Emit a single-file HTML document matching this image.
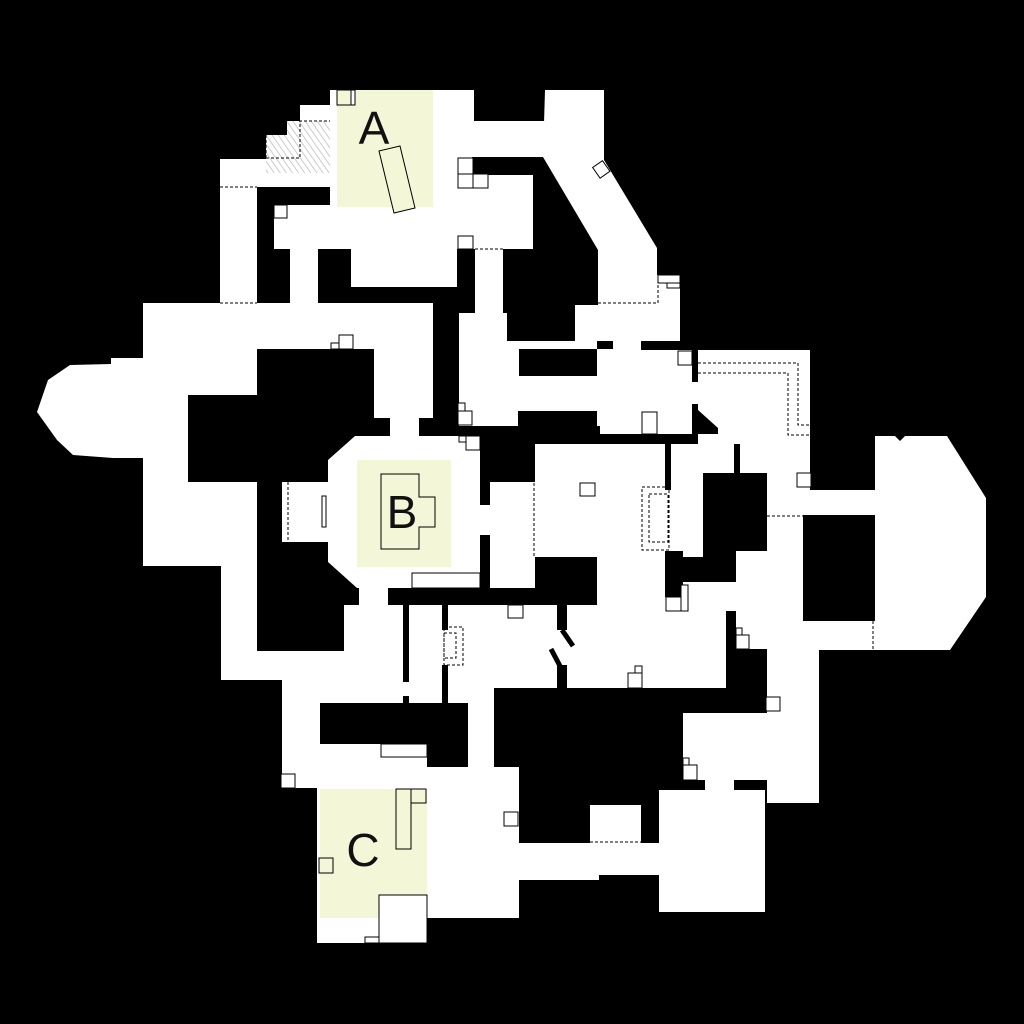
<!DOCTYPE html>
<html><head><meta charset="utf-8"><style>
html,body{margin:0;padding:0;background:#000;}
svg{display:block;}
text{font-family:"Liberation Sans",sans-serif;fill:#111;}
</style></head><body>
<svg width="1024" height="1024" viewBox="0 0 1024 1024">
<defs>
<pattern id="hatch" width="5" height="5" patternUnits="userSpaceOnUse" patternTransform="rotate(-35)">
<rect width="5" height="5" fill="#fff"/><line x1="0" y1="0" x2="0" y2="5" stroke="#bbb" stroke-width="1.5"/>
</pattern>
</defs>
<rect x="0" y="0" width="1024" height="1024" fill="#000"/>
<g fill="#fff">
<rect x="220" y="159" width="37" height="144"/>
<rect x="220" y="159" width="110" height="28"/>
<rect x="300" y="105" width="30" height="16"/>
<rect x="330" y="90" width="144" height="117"/>
<rect x="433" y="121" width="171" height="36"/>
<rect x="433" y="157" width="100" height="78"/>
<polygon points="545,90 604,90 604,160 657,248 657,275 680,275 680,341 575,341 575,305 598,305 598,250 543,157"/>
<rect x="274" y="205" width="259" height="44"/>
<rect x="290" y="249" width="28" height="56"/>
<rect x="351" y="249" width="106" height="38"/>
<rect x="475" y="235" width="28" height="78"/>
<rect x="459" y="313" width="48" height="28"/>
<rect x="143" y="303" width="290" height="46"/>
<rect x="374" y="349" width="59" height="69"/>
<rect x="390" y="418" width="29" height="18"/>
<rect x="143" y="349" width="114" height="46"/>
<rect x="143" y="395" width="45" height="87"/>
<rect x="143" y="482" width="114" height="84"/>
<rect x="221" y="566" width="36" height="114"/>
<rect x="221" y="651" width="123" height="29"/>
<rect x="282" y="482" width="46" height="60"/>
<polygon points="355,436 480,436 480,588 357,588 328,562 328,460"/>
<rect x="480" y="505" width="10" height="30"/>
<rect x="490" y="482" width="45" height="106"/>
<rect x="359" y="588" width="29" height="17"/>
<rect x="344" y="605" width="382" height="83"/>
<rect x="282" y="680" width="186" height="23"/>
<rect x="282" y="703" width="38" height="85"/>
<rect x="320" y="744" width="107" height="23"/>
<rect x="282" y="767" width="237" height="21"/>
<rect x="468" y="688" width="26" height="80"/>
<rect x="317" y="788" width="110" height="155"/>
<rect x="427" y="767" width="92" height="151"/>
<rect x="519" y="843" width="80" height="37"/>
<rect x="599" y="843" width="60" height="32"/>
<rect x="590" y="805" width="51" height="38"/>
<rect x="659" y="790" width="106" height="122"/>
<rect x="683" y="713" width="84" height="67"/>
<rect x="705" y="780" width="29" height="10"/>
<rect x="767" y="650" width="52" height="153"/>
<rect x="736" y="551" width="67" height="99"/>
<rect x="683" y="582" width="53" height="29"/>
<rect x="535" y="444" width="205" height="29"/>
<rect x="535" y="473" width="168" height="84"/>
<rect x="597" y="557" width="68" height="48"/>
<rect x="665" y="597" width="20" height="8"/>
<rect x="459" y="341" width="141" height="85"/>
<rect x="600" y="341" width="92" height="93"/>
<rect x="692" y="382" width="6" height="22"/>
<rect x="698" y="350" width="112" height="140"/>
<rect x="740" y="490" width="135" height="25"/>
<rect x="767" y="515" width="36" height="135"/>
<rect x="803" y="621" width="72" height="29"/>
<polygon points="875,436 895,436 900,441 905,436 947,436 986,498 986,597 950,650 875,650"/>
<polygon points="37,412 48,380 70,365 111,364 111,358 143,358 143,458 113,458 73,455 57,440"/>
</g>
<g fill="#000">
<rect x="472" y="157" width="71" height="18"/>
<rect x="519" y="349" width="78" height="27"/>
<rect x="518" y="411" width="79" height="15"/>
<rect x="597" y="341" width="16" height="8"/>
<rect x="641" y="341" width="57" height="9"/>
<rect x="597" y="376" width="3" height="35" fill="#fff"/>
<rect x="692" y="404" width="6" height="30"/>
<polygon points="698,410 718,428 718,434 698,434"/>
<rect x="665" y="444" width="6" height="46"/>
<rect x="734" y="444" width="6" height="29"/>
<rect x="703" y="473" width="64" height="78"/>
<rect x="665" y="551" width="18" height="46"/>
<rect x="665" y="565" width="71" height="17"/>
<rect x="535" y="557" width="62" height="48"/>
<rect x="726" y="611" width="10" height="102"/>
<rect x="736" y="649" width="31" height="64"/>
<rect x="403" y="605" width="6" height="77"/>
<rect x="403" y="696" width="6" height="7"/>
<rect x="442" y="605" width="6" height="25"/>
<rect x="442" y="665" width="6" height="38"/>
<rect x="557" y="605" width="10" height="25"/>
<rect x="557" y="665" width="10" height="23"/>
</g>
<g stroke="#000" stroke-width="5">
<line x1="562" y1="630" x2="573" y2="646"/>
<line x1="551" y1="649" x2="560" y2="666"/>
</g>
<rect x="266" y="121" width="64" height="52" fill="url(#hatch)"/>
<rect x="266" y="121" width="21" height="14" fill="#000"/>
<rect x="337" y="90" width="96" height="117" fill="#f4f6d8"/>
<rect x="357" y="460" width="94" height="107" fill="#f4f6d8"/>
<rect x="320" y="789" width="107" height="129" fill="#f4f6d8"/>
<g fill="none" stroke="#000" stroke-width="1" stroke-dasharray="3,2">
<line x1="220" y1="187" x2="257" y2="187"/>
<line x1="220" y1="303" x2="257" y2="303"/>
<line x1="475" y1="249" x2="503" y2="249"/>
<polyline points="598,303 658,303 658,283"/>
<rect x="642" y="487" width="27" height="63"/>
<rect x="649" y="494" width="19" height="48"/>
<rect x="444" y="627" width="19" height="38"/>
<rect x="444" y="633" width="12" height="25"/>
<polyline points="698,363 798,363 798,425 810,425"/>
<polyline points="698,373 788,373 788,435 810,435"/>
<line x1="534" y1="483" x2="534" y2="557"/>
<line x1="767" y1="516" x2="803" y2="516"/>
<line x1="873" y1="621" x2="873" y2="650"/>
<line x1="590" y1="842" x2="641" y2="842"/>
<line x1="288" y1="482" x2="288" y2="542"/>
<polyline points="266,158 300,158 300,121 330,121"/>
<line x1="266" y1="135" x2="266" y2="158"/>
</g>
<g fill="#fff" stroke="#000" stroke-width="1">
<rect x="337" y="90" width="14" height="15" fill="#f4f6d8"/><rect x="351" y="90" width="4" height="15"/>
<rect x="458" y="158" width="15" height="16"/><rect x="458" y="174" width="15" height="14"/><rect x="473" y="174" width="15" height="14"/>
<rect x="274" y="205" width="13" height="13"/><rect x="458" y="236" width="15" height="13"/>
<rect x="339" y="335" width="14" height="14"/><rect x="331" y="343" width="8" height="6"/>
<rect x="458" y="403" width="7" height="8"/><rect x="458" y="411" width="14" height="14"/>
<rect x="459" y="436" width="7" height="6"/><rect x="466" y="436" width="14" height="14"/>
<rect x="595" y="163" width="12" height="13" transform="rotate(-35 601 169)"/>
<rect x="658" y="275" width="22" height="8"/><rect x="667" y="283" width="13" height="5"/>
<rect x="678" y="351" width="14" height="14"/><rect x="642" y="412" width="15" height="22"/>
<rect x="797" y="473" width="14" height="14"/><rect x="580" y="483" width="15" height="13"/>
<rect x="508" y="605" width="15" height="13"/><rect x="628" y="673" width="14" height="15"/><rect x="635" y="666" width="7" height="7"/>
<rect x="666" y="597" width="15" height="14"/><rect x="681" y="585" width="7" height="26"/>
<rect x="736" y="635" width="13" height="14"/><rect x="736" y="628" width="6" height="7"/>
<rect x="766" y="697" width="14" height="14"/><rect x="683" y="765" width="14" height="15"/><rect x="683" y="758" width="6" height="7"/>
<rect x="504" y="812" width="14" height="14"/><rect x="381" y="744" width="46" height="13"/>
<rect x="412" y="573" width="68" height="15"/>
<rect x="396" y="789" width="15" height="60" fill="#f4f6d8"/><rect x="411" y="789" width="15" height="14" fill="#f4f6d8"/>
<rect x="319" y="858" width="14" height="15" fill="#f4f6d8"/><rect x="281" y="774" width="14" height="14"/>
<rect x="379" y="895" width="48" height="48"/><rect x="365" y="937" width="14" height="6"/>
<rect x="322" y="496" width="4" height="31"/>
<polygon points="379,151 400,146 415,208 394,213" fill="#f4f6d8"/>
<polygon points="381,474 419,474 419,497 435,497 435,527 419,527 419,549 381,549" fill="#f4f6d8"/>
</g>
<text x="374" y="144" font-size="46" text-anchor="middle">A</text>
<text x="402" y="528" font-size="46" text-anchor="middle">B</text>
<text x="363" y="866" font-size="46" text-anchor="middle">C</text>
</svg>
</body></html>
